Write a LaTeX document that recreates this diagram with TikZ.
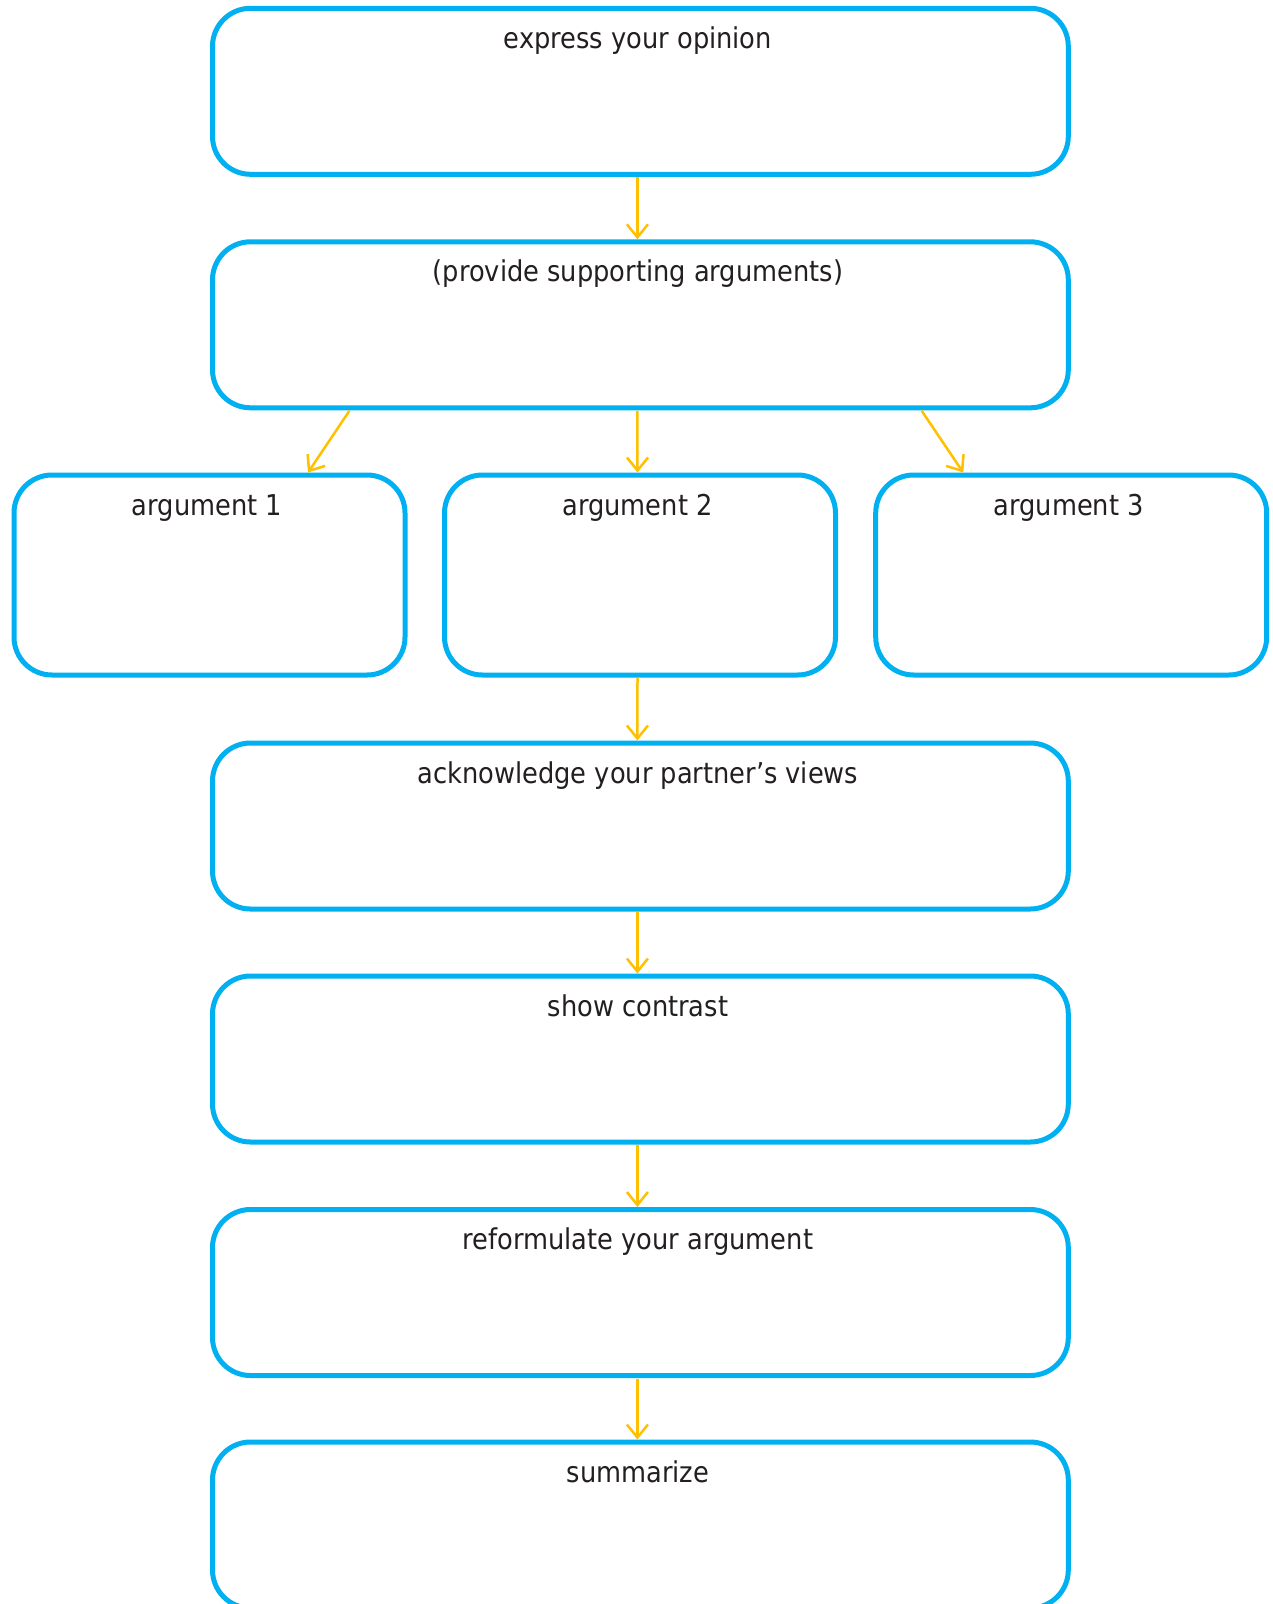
\documentclass[tikz,border=0pt]{standalone}
\usepackage{fontspec}
\setmainfont{DejaVu Sans}[FakeStretch=0.895]
\usetikzlibrary{arrows.meta}
\definecolor{cblue}{HTML}{00B0F0}
\definecolor{cyell}{HTML}{FFC000}
\definecolor{ctext}{HTML}{231F20}
\tikzset{
  boxbase/.style={draw=cblue, line width=5pt, rounded corners=38pt, inner sep=0pt, outer sep=0pt},
  mbox/.style={boxbase, minimum width=855.8pt, minimum height=166pt},
  abox/.style={boxbase, minimum width=391pt, minimum height=200pt},
  lbl/.style={text=ctext, font=\fontsize{28.7pt}{34pt}\selectfont, inner sep=0pt, anchor=base},
  arr/.style={draw=cyell, line width=2.5pt, -{Straight Barb[length=13pt,width=21pt]}}
}
\begin{document}
\begin{tikzpicture}[x=1pt,y=-1pt]
\useasboundingbox (0,0) rectangle (1273,1604);
\clip (0,0) rectangle (1273,1604);
\fill[white] (0,0) rectangle (1273,1604);
% main boxes
\node[mbox] (b1) at (640.4,91.3) {};
\node[mbox] (b2) at (640.4,324.8) {};
\node[abox] (a1) at (209.5,575) {};
\node[abox] (a2) at (640,575) {};
\node[abox] (a3) at (1071.2,575) {};
\node[mbox] (b4) at (640.4,826) {};
\node[mbox] (b5) at (640.4,1059) {};
\node[mbox] (b6) at (640.4,1292.5) {};
\node[mbox] (b7) at (640.4,1525) {};
% labels
\node[lbl] (t1) at ([xshift=-2.5pt,yshift=-40pt]b1.north) {express your opinion};
\node[lbl] (t2) at ([xshift=-2.5pt,yshift=-40pt]b2.north) {(provide supporting arguments)};
\node[lbl] (ta1) at ([xshift=-2.5pt,yshift=-40pt]a1.north) {argument 1};
\node[lbl] (ta2) at ([xshift=-2.5pt,yshift=-40pt]a2.north) {argument 2};
\node[lbl] (ta3) at ([xshift=-2.5pt,yshift=-40pt]a3.north) {argument 3};
\node[lbl] (t4) at ([xshift=-2.5pt,yshift=-40pt]b4.north) {acknowledge your partner’s views};
\node[lbl] (t5) at ([xshift=-2.5pt,yshift=-40pt]b5.north) {show contrast};
\node[lbl] (t6) at ([xshift=-2.5pt,yshift=-40pt]b6.north) {reformulate your argument};
\node[lbl] (t7) at ([xshift=-2.5pt,yshift=-40pt]b7.north) {summarize};
% connectors
\draw[arr] ([xshift=-3pt,yshift=-3pt]b1.south) -- ([xshift=-3pt,yshift=2.5pt]b2.north);
\draw[arr] ([xshift=-291pt,yshift=-3pt]b2.south) -- ([xshift=98.5pt,yshift=2.5pt]a1.north);
\draw[arr] ([xshift=-3pt,yshift=-3pt]b2.south) -- ([xshift=-2.5pt,yshift=2.5pt]a2.north);
\draw[arr] ([xshift=281.3pt,yshift=-3pt]b2.south) -- ([xshift=-108pt,yshift=2.5pt]a3.north);
\draw[arr] ([xshift=-2.5pt,yshift=-3pt]a2.south) -- ([xshift=-3pt,yshift=2.5pt]b4.north);
\draw[arr] ([xshift=-3pt,yshift=-3pt]b4.south) -- ([xshift=-3pt,yshift=2.5pt]b5.north);
\draw[arr] ([xshift=-3pt,yshift=-3pt]b5.south) -- ([xshift=-3pt,yshift=2.5pt]b6.north);
\draw[arr] ([xshift=-3pt,yshift=-3pt]b6.south) -- ([xshift=-3pt,yshift=2.5pt]b7.north);
\end{tikzpicture}
\end{document}
